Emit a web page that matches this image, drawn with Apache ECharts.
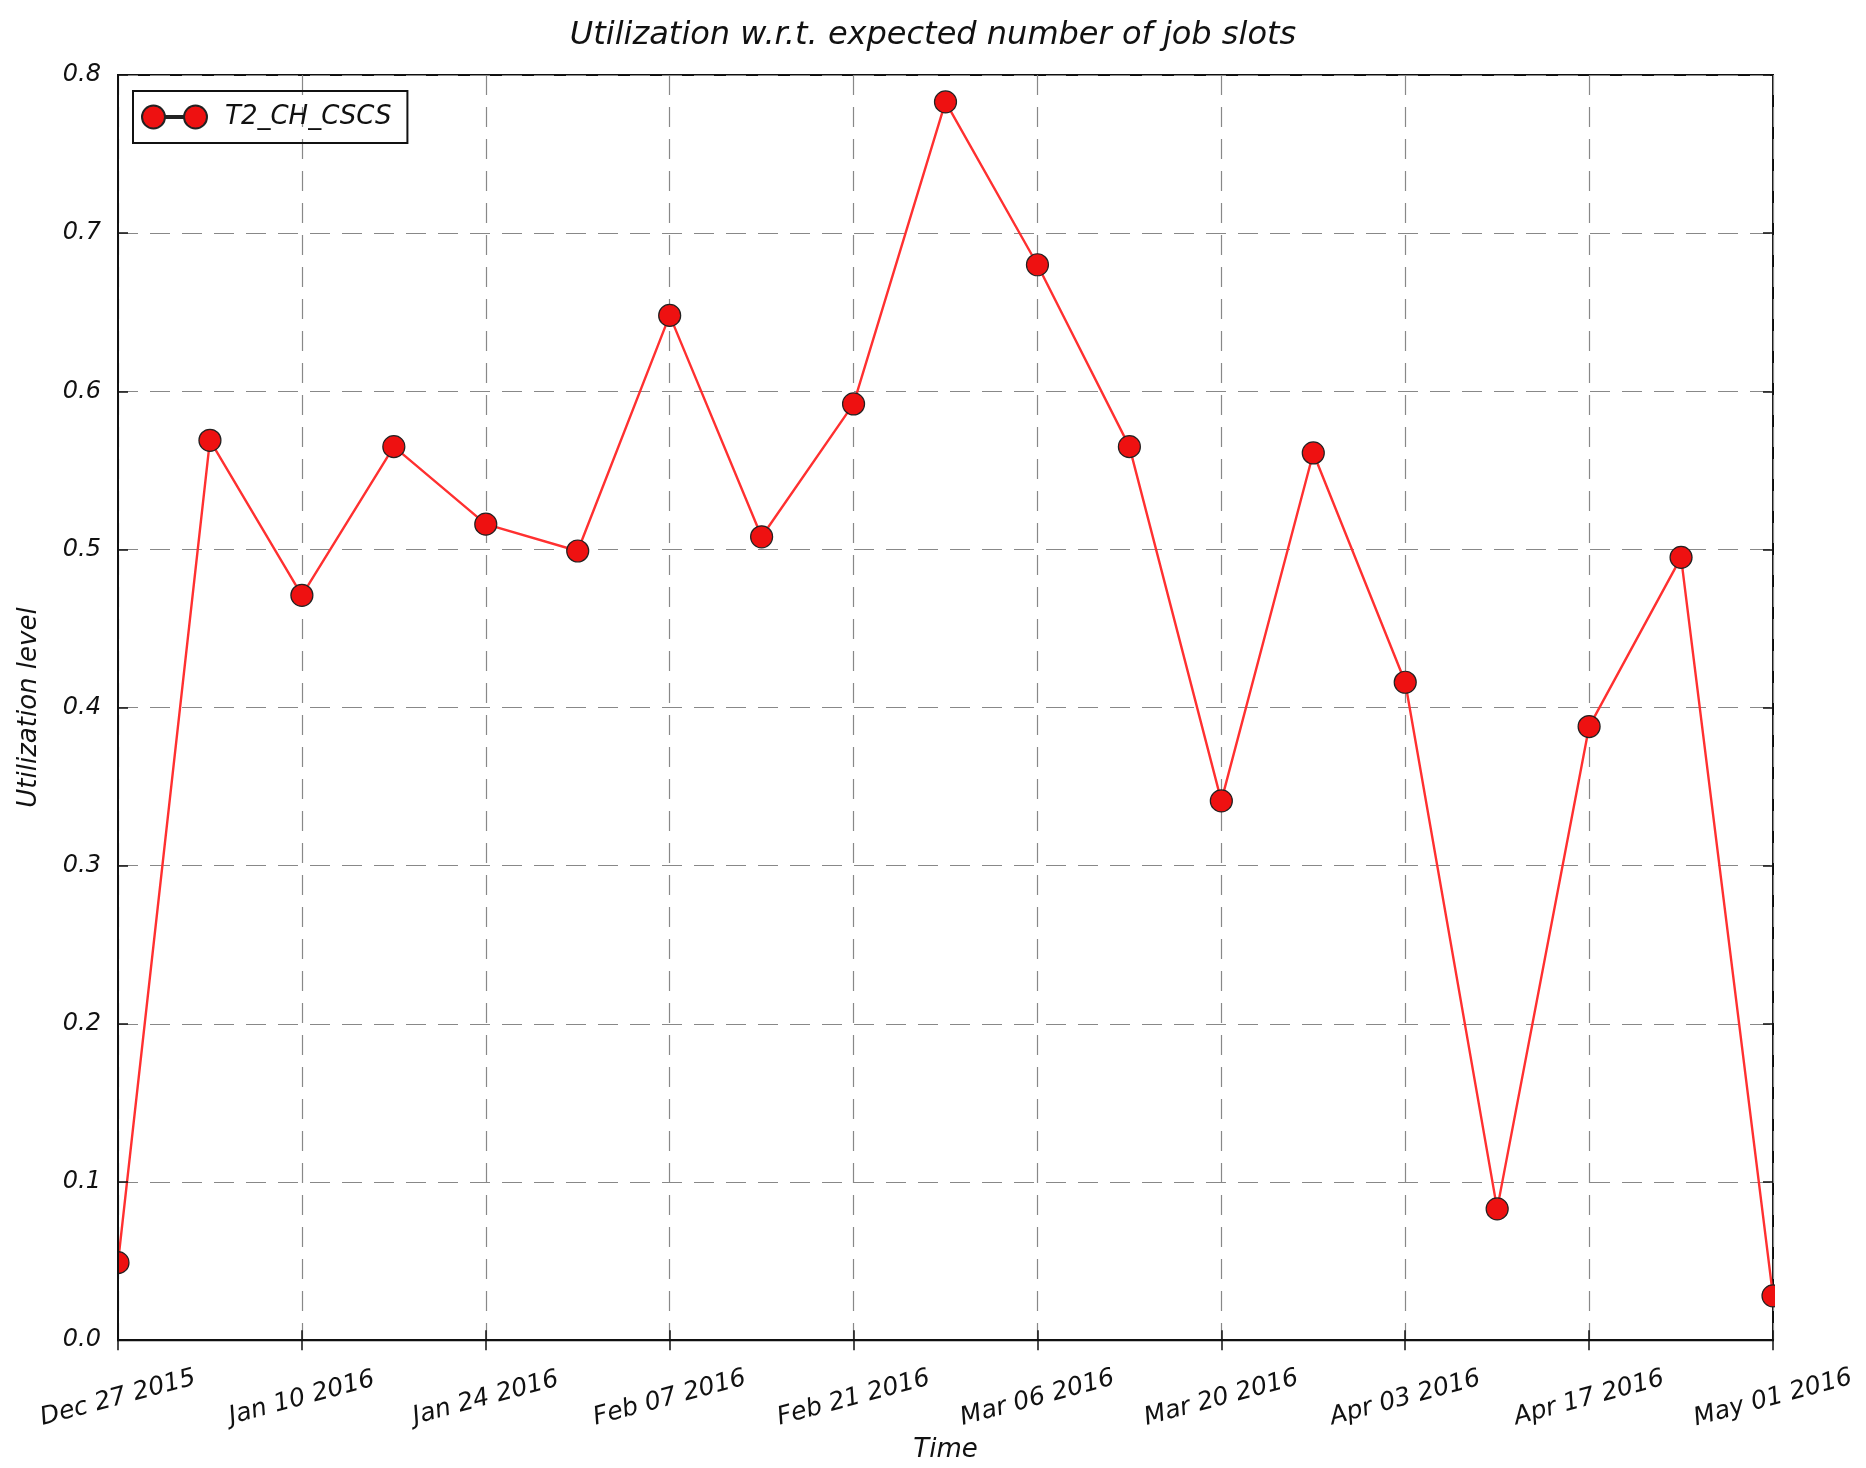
<!DOCTYPE html>
<html lang="en">
<head>
	<meta charset="UTF-8">
	<title>Utilization</title>
	<script src="https://cdn.jsdelivr.net/npm/echarts@6/dist/echarts.min.js"></script>
	<style>
		body { margin: 0; background: #fff; }
	</style>
</head>
<body>
	<div id="chart" style="width: 1866px; height: 1468px"></div>

	<script>
		// weekly sample dates
		var weeks = ['Dec 27 2015', 'Jan 03 2016', 'Jan 10 2016', 'Jan 17 2016', 'Jan 24 2016',
			'Jan 31 2016', 'Feb 07 2016', 'Feb 14 2016', 'Feb 21 2016', 'Feb 28 2016',
			'Mar 06 2016', 'Mar 13 2016', 'Mar 20 2016', 'Mar 27 2016', 'Apr 03 2016',
			'Apr 10 2016', 'Apr 17 2016', 'Apr 24 2016', 'May 01 2016'];
		var cscs = [0.049, 0.569, 0.471, 0.565, 0.516, 0.499, 0.648, 0.508, 0.592, 0.783,
			0.680, 0.565, 0.341, 0.561, 0.416, 0.083, 0.388, 0.495, 0.028];
		var seriesName = 'T2_CH_CSCS';

		var font = 'DejaVu Sans';
		var chart = echarts.init(document.getElementById('chart'));
		var gridStyle = { color: '#888', width: 1.2, type: [20, 12] };
		var tickStyle = { color: '#111', width: 1.5 };
		// legend icon: two markers joined by a short line
		var legendIcon = 'path://M0,11.5a11.5,11.5 0 1,0 23,0a11.5,11.5 0 1,0 -23,0Z' +
			'M23,10.5L42,10.5L42,12.5L23,12.5Z' +
			'M42,11.5a11.5,11.5 0 1,0 23,0a11.5,11.5 0 1,0 -23,0Z';

		var option = {
			backgroundColor: '#fff',
			animation: false,
			title: {
				text: 'Utilization w.r.t. expected number of job slots',
				left: 'center', top: 15,
				textStyle: { fontFamily: font, fontStyle: 'italic', fontWeight: 'normal', fontSize: 32, color: '#111' }
			},
			legend: {
				left: 133, top: 91,
				padding: [13, 16, 13, 8],
				borderColor: '#111', borderWidth: 2, borderRadius: 0,
				icon: legendIcon,
				itemWidth: 65, itemHeight: 23,
				textStyle: { fontFamily: font, fontStyle: 'italic', fontSize: 26, color: '#111', padding: [0, 0, 0, 13] },
				data: [seriesName]
			},
			grid: {
				left: 118, right: 93, top: 75, bottom: 113,
				show: true, borderColor: '#111', borderWidth: 2, backgroundColor: '#fff'
			},
			// white strips outside the plot so edge markers look clipped
			graphic: [
				{ type: 'rect', z: 5, shape: { x: 0, y: 40, width: 117, height: 1330 }, style: { fill: '#fff' } },
				{ type: 'rect', z: 5, shape: { x: 1775, y: 40, width: 91, height: 1330 }, style: { fill: '#fff' } }
			],
			xAxis: [{
				type: 'category',
				data: weeks,
				boundaryGap: false,
				z: 10,
				name: 'Time', nameLocation: 'middle', nameGap: 93,
				nameTextStyle: { fontFamily: font, fontStyle: 'italic', fontSize: 26, color: '#111' },
				axisLine: { lineStyle: { color: '#111', width: 2 } },
				axisTick: { inside: true, length: 10, interval: 1, lineStyle: tickStyle },
				axisLabel: {
					interval: 1, rotate: 15, margin: 58, align: 'center', verticalAlign: 'middle',
					fontFamily: font, fontStyle: 'italic', fontSize: 25, color: '#111'
				},
				splitLine: { show: false }
			}, {
				type: 'category',
				data: weeks,
				boundaryGap: false,
				position: 'top',
				axisLine: { show: false },
				axisTick: { inside: true, length: 10, interval: 1, lineStyle: tickStyle },
				axisLabel: { show: false },
				splitLine: { show: true, interval: 1, lineStyle: gridStyle }
			}],
			yAxis: [{
				type: 'value',
				min: 0, max: 0.8, interval: 0.1,
				z: 10,
				name: 'Utilization level', nameLocation: 'middle', nameGap: 76,
				nameTextStyle: { fontFamily: font, fontStyle: 'italic', fontSize: 26, color: '#111' },
				axisLine: { show: true, lineStyle: { color: '#111', width: 2 } },
				axisTick: { show: true, inside: true, length: 10, lineStyle: tickStyle },
				axisLabel: {
					margin: 17, fontFamily: font, fontStyle: 'italic', fontSize: 24, color: '#111',
					formatter: function (v) { return v.toFixed(1); }
				},
				splitLine: { show: false }
			}, {
				type: 'value',
				min: 0, max: 0.8, interval: 0.1,
				position: 'right',
				axisLine: { show: false },
				axisTick: { show: true, inside: true, length: 10, lineStyle: tickStyle },
				axisLabel: { show: false },
				splitLine: { show: true, lineStyle: gridStyle }
			}],
			series: [{
				name: seriesName,
				type: 'line',
				data: cscs,
				symbol: 'circle',
				symbolSize: 22,
				lineStyle: { color: '#ff3030', width: 2.4 },
				itemStyle: { color: '#ee1111', borderColor: '#222', borderWidth: 1.2 },
				z: 3
			}]
		};
		chart.setOption(option);
	</script>
</body>
</html>
